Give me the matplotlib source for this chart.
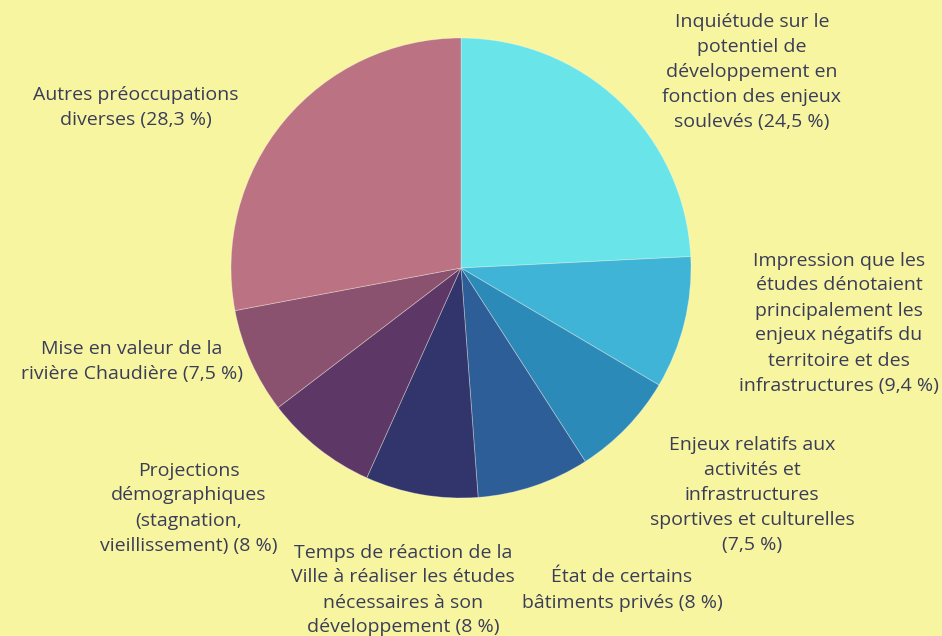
import matplotlib
matplotlib.use("Agg")
import matplotlib.pyplot as plt

labels = [
    "Inquiétude sur le\npotentiel de\ndéveloppement en\nfonction des enjeux\nsoulevés (24,5 %)",
    "Impression que les\nétudes dénotaient\nprincipalement les\nenjeux négatifs du\nterritoire et des\ninfrastructures (9,4 %)",
    "Enjeux relatifs aux\nactivités et\ninfrastructures\nsportives et culturelles\n(7,5 %)",
    "État de certains\nbâtiments privés (8 %)",
    "Temps de réaction de la\nVille à réaliser les études\nnécessaires à son\ndéveloppement (8 %)",
    "Projections\ndémographiques\n(stagnation,\nvieillissement) (8 %)",
    "Mise en valeur de la\nrivière Chaudière (7,5 %)",
    "Autres préoccupations\ndiverses (28,3 %)",
]
values = [24.5, 9.4, 7.5, 8, 8, 8, 7.5, 28.3]
colors = ["#69e5ea", "#40b4d6", "#2c8ab9", "#2e5e98", "#31356c", "#5d3766", "#8a526f", "#bb7283"]

# label anchor positions (pixels from top-left)
label_pos = [(752, 72), (839, 323), (752, 495), (622, 590), (403, 590), (189, 508), (132, 361), (136, 108)]

W, H = 942, 636
bg = "#f8f5a0"
fig = plt.figure(figsize=(W / 100, H / 100), dpi=100, facecolor=bg)
ax = fig.add_axes([0, 0, 1, 1])
ax.set_facecolor(bg)

cx, cy, r = 461, H - 268, 230
ax.pie(values, colors=colors, startangle=90, counterclock=False,
       radius=r, center=(cx, cy),
       wedgeprops=dict(edgecolor=(1, 1, 1, 0.35), linewidth=0.6))
ax.set_xlim(0, W)
ax.set_ylim(0, H)
ax.set_aspect("equal")
ax.axis("off")

for lab, (x, y) in zip(labels, label_pos):
    ax.text(x, H - y, lab, ha="center", va="center", multialignment="center",
            fontsize=14, family="Open Sans", color="#3a3d58", linespacing=1.5)

fig.savefig("out.png", dpi=100, facecolor=bg)
